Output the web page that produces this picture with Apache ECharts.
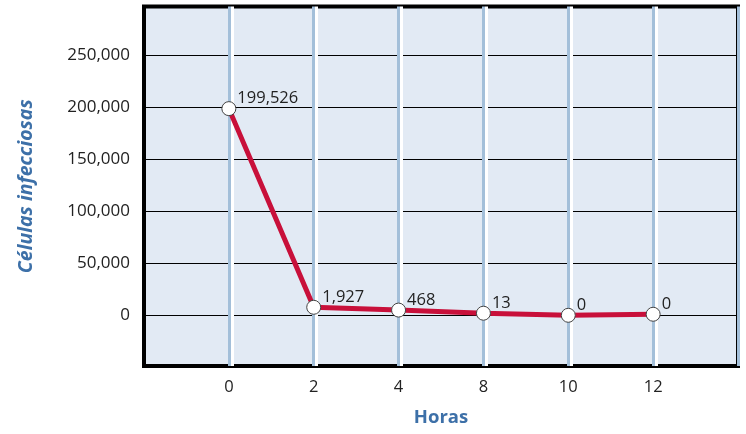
<!DOCTYPE html>
<html>
<head>
<meta charset="utf-8">
<script src="https://cdn.jsdelivr.net/npm/echarts@6/dist/echarts.min.js"></script>
<style>
  html, body { margin: 0; padding: 0; background: #fff; }
  #grafica { width: 746px; height: 434px; }
</style>
</head>
<body>
<div id="grafica"></div>
<script>
// horas (eje x)
var horas = ['0', '2', '4', '8', '10', '12'];
// altura de cada punto tal como esta dibujado en la figura
var celulas = [198500, 7700, 5000, 2000, 0, 1000];
// texto impreso junto a cada punto
var etiquetas = ['199,526', '1,927', '468', '13', '0', '0'];
// rango del eje y
var yMin = -48700;
var yMax = 296600;

// hueco vacio a cada lado, como en el original
var categorias = [''].concat(horas).concat([' ']);
var datos = [null].concat(celulas).concat([null]);

var fuente = '"Open Sans", "Noto Sans", sans-serif';

var myChart = echarts.init(document.getElementById('grafica'));

var option = {
    animation: false,
    backgroundColor: '#fff',
    grid: {
        left: 144,
        right: 8,
        top: 6.5,
        bottom: 68,
        show: true,
        backgroundColor: '#e2eaf4',
        borderColor: '#000',
        borderWidth: 4
    },
    xAxis: {
        type: 'category',
        data: categorias,
        boundaryGap: false,
        name: 'Horas',
        nameLocation: 'middle',
        nameGap: 42,
        nameTextStyle: {
            color: '#3d70a8',
            fontFamily: fuente,
            fontWeight: 'bold',
            fontSize: 18.5
        },
        axisLine: { show: false },
        axisTick: { show: false },
        axisLabel: {
            margin: 13,
            color: '#222',
            fontFamily: fuente,
            fontSize: 16.5
        },
        splitLine: {
            show: true,
            interval: function (index) { return index > 0; },
            lineStyle: {
                color: '#a3bfd9',
                width: 3,
                shadowColor: '#ffffff',
                shadowOffsetX: 3,
                shadowBlur: 0
            }
        }
    },
    yAxis: {
        type: 'value',
        min: yMin,
        max: yMax,
        name: 'Células infecciosas',
        nameLocation: 'middle',
        nameGap: 108,
        nameTextStyle: {
            color: '#3d70a8',
            fontFamily: fuente,
            fontWeight: 'bold',
            fontStyle: 'italic',
            fontSize: 19.5
        },
        axisLine: { show: false },
        axisTick: { show: false },
        axisLabel: {
            margin: 14,
            color: '#222',
            fontFamily: fuente,
            fontSize: 17,
            showMinLabel: false,
            showMaxLabel: false,
            formatter: function (v) { return v.toLocaleString('en-US'); }
        },
        splitLine: {
            show: true,
            lineStyle: { color: '#000', width: 1 }
        }
    },
    series: [{
        type: 'line',
        data: datos,
        symbol: 'circle',
        symbolSize: 14,
        lineStyle: { color: '#c8103a', width: 5 },
        itemStyle: { color: '#fff', borderColor: '#444', borderWidth: 1 },
        label: {
            show: true,
            position: 'right',
            distance: 1,
            offset: [0, -10],
            color: '#222',
            fontFamily: fuente,
            fontSize: 16.5,
            formatter: function (p) { return etiquetas[p.dataIndex - 1]; }
        },
        z: 5
    }]
};

myChart.setOption(option);
</script>
</body>
</html>
